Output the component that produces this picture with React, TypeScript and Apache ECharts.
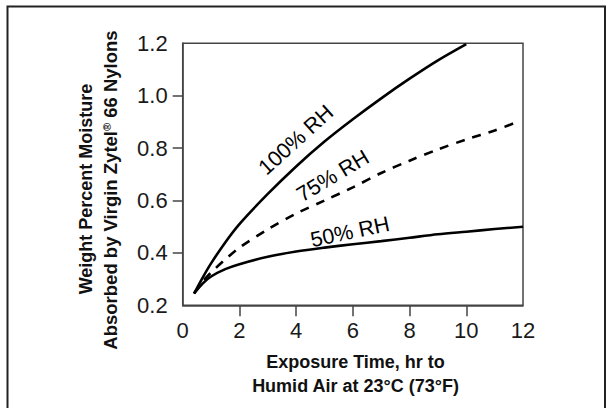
import React, { useEffect, useRef } from "react";
import * as echarts from "echarts";

const xTickValues = [2, 4, 6, 8, 10];
const yTickValues = [0.4, 0.6, 0.8, 1.0];

const hours100 = [0.4, 0.7, 1, 1.5, 2, 3, 4, 5, 6, 7, 8, 9, 10];
const rh100 = [0.245, 0.305, 0.36, 0.44, 0.51, 0.625, 0.73, 0.825, 0.91, 0.99, 1.065, 1.135, 1.197];

const hours75 = [0.4, 0.7, 1, 1.5, 2, 3, 4, 5, 6, 7, 8, 9, 10, 11, 11.8];
const rh75 = [0.245, 0.29, 0.325, 0.375, 0.42, 0.49, 0.55, 0.6, 0.65, 0.705, 0.752, 0.795, 0.833, 0.867, 0.9];

const hours50 = [0.4, 0.7, 1, 1.5, 2, 3, 4, 5, 6, 7, 8, 9, 10, 11, 12];
const rh50 = [0.245, 0.283, 0.31, 0.338, 0.357, 0.385, 0.405, 0.42, 0.433, 0.445, 0.458, 0.471, 0.481, 0.491, 0.5];

const seriesLabels = ["100% RH", "75% RH", "50% RH"];
const xTitle = ["Exposure Time, hr to", "Humid Air at 23°C (73°F)"];
const yTitle1 = "Weight Percent Moisture";
const yTitle2 = "Absorbed by Virgin Zytel{sup|®} 66 Nylons";

const FONT = "'Liberation Sans', Arial, Helvetica, sans-serif";

const zip = (xs: number[], ys: number[]) => xs.map((x, i) => [x, ys[i]]);

export default function App() {
  const ref = useRef<HTMLDivElement>(null);
  useEffect(() => {
    if (!ref.current) return;
    const chart = echarts.init(ref.current, null, { renderer: "svg" });
    const lineStyleBase = { color: "#000", width: 2.6 };
    const curveText = (text: string, x: number, y: number, deg: number) => ({
      type: "text",
      x,
      y,
      rotation: (deg * Math.PI) / 180,
      style: { text, font: `21.5px ${FONT}`, fill: "#000", align: "center", verticalAlign: "middle" },
    });
    chart.setOption({
      animation: false,
      backgroundColor: "#fff",
      textStyle: { fontFamily: FONT },
      grid: {
        left: 182.7,
        right: 90,
        top: 43.3,
        bottom: 102.7,
        show: true,
        borderColor: "#444",
        borderWidth: 1.5,
        backgroundColor: "transparent",
      },
      xAxis: {
        type: "value",
        min: 0,
        max: 12,
        interval: 2,
        splitLine: { show: false },
        axisLine: { show: true, onZero: false, lineStyle: { color: "#444", width: 1.5 } },
        axisTick: {
          show: true,
          length: 11,
          customValues: xTickValues,
          lineStyle: { color: "#444", width: 1.5 },
        },
        axisLabel: {
          color: "#1a1a1a",
          fontSize: 22,
          fontFamily: FONT,
          margin: 14,
        },
      },
      yAxis: {
        type: "value",
        min: 0.2,
        max: 1.2,
        interval: 0.2,
        splitLine: { show: false },
        axisLine: { show: true, onZero: false, lineStyle: { color: "#444", width: 1.5 } },
        axisTick: {
          show: true,
          length: 10,
          customValues: yTickValues,
          lineStyle: { color: "#444", width: 1.5 },
        },
        axisLabel: {
          color: "#1a1a1a",
          fontSize: 22,
          fontFamily: FONT,
          margin: 15,
          formatter: (v: number) => v.toFixed(1),
        },
      },
      series: [
        {
          type: "line",
          name: seriesLabels[0],
          data: zip(hours100, rh100),
          smooth: 0.3,
          showSymbol: false,
          lineStyle: { ...lineStyleBase },
        },
        {
          type: "line",
          name: seriesLabels[1],
          data: zip(hours75, rh75),
          smooth: 0.3,
          showSymbol: false,
          lineStyle: { ...lineStyleBase, type: [9, 8] },
        },
        {
          type: "line",
          name: seriesLabels[2],
          data: zip(hours50, rh50),
          smooth: 0.3,
          showSymbol: false,
          lineStyle: { ...lineStyleBase },
        },
      ],
      graphic: [
        {
          type: "polyline",
          silent: true,
          shape: { points: [[7.5, 410], [7.5, 6.5], [605, 6.5], [605, 410]] },
          style: { stroke: "#222", lineWidth: 2, fill: "none" },
        },
        curveText(seriesLabels[0], 296, 140, 42),
        curveText(seriesLabels[1], 333, 176, 31),
        curveText(seriesLabels[2], 350, 232, 12),
        {
          type: "text",
          x: 355.5,
          y: 362,
          style: { text: xTitle[0], font: `bold 18px ${FONT}`, fill: "#111", align: "center", verticalAlign: "middle" },
        },
        {
          type: "text",
          x: 355.5,
          y: 386,
          style: { text: xTitle[1], font: `bold 18px ${FONT}`, fill: "#111", align: "center", verticalAlign: "middle" },
        },
        {
          type: "text",
          x: 86,
          y: 189,
          rotation: Math.PI / 2,
          style: { text: yTitle1, font: `bold 18px ${FONT}`, fill: "#111", align: "center", verticalAlign: "middle" },
        },
        {
          type: "text",
          x: 110.5,
          y: 190,
          rotation: Math.PI / 2,
          style: {
            text: yTitle2,
            fontFamily: FONT,
            fontSize: 18.5,
            fontWeight: "bold",
            fill: "#111",
            align: "center",
            verticalAlign: "middle",
            rich: {
              sup: { fontFamily: FONT, fontSize: 11, fontWeight: "bold", fill: "#111", verticalAlign: "top", padding: [0, 0, 7, 0] },
            },
          },
        },
      ],
    });
    return () => chart.dispose();
  }, []);
  return <div ref={ref} style={{ position: "fixed", left: 0, top: 0, width: 613, height: 408 }} />;
}
